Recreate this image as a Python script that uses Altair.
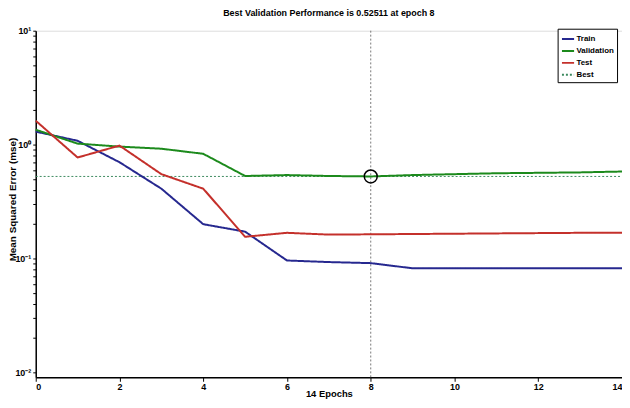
import altair as alt
import pandas as pd

# ---- data ----
epochs = list(range(15))
train = [1.30, 1.08, 0.70, 0.41, 0.20, 0.172, 0.096, 0.093, 0.091, 0.082, 0.082, 0.082, 0.082, 0.082, 0.082]
validation = [1.35, 1.02, 0.96, 0.92, 0.83, 0.53, 0.54, 0.53, 0.52511, 0.54, 0.55, 0.56, 0.565, 0.57, 0.58]
test = [1.62, 0.77, 0.98, 0.55, 0.41, 0.155, 0.168, 0.162, 0.163, 0.164, 0.165, 0.166, 0.167, 0.168, 0.168]
best_epoch = 8
best_perf = 0.52511
series_names = ["Train", "Validation", "Test", "Best"]
series_colors = ["#26288f", "#1c8a1c", "#c4302b", "#3d8a5f"]
series_dash = [[1, 0], [1, 0], [1, 0], [2, 2]]
x_ticks = [0, 2, 4, 6, 8, 10, 12, 14]
y_ticks = [m * 10.0 ** p for p in (-2, -1, 0) for m in range(1, 10)] + [10.0]

rows = []
for name, vals in [("Train", train), ("Validation", validation), ("Test", test)]:
    for e, v in zip(epochs, vals):
        rows.append({"epoch": e, "mse": v, "series": name})
lines_df = pd.DataFrame(rows)
best_df = pd.DataFrame({"epoch": [epochs[0], epochs[-1]], "mse": [best_perf, best_perf], "series": ["Best", "Best"]})
point_df = pd.DataFrame({"epoch": [best_epoch], "mse": [best_perf]})

FONT = "Liberation Sans"

x_enc = alt.X("epoch:Q",
              scale=alt.Scale(domain=[0, 14], nice=False, zero=False),
              axis=alt.Axis(values=x_ticks, title="14 Epochs", grid=False,
                            labelFontSize=9, labelFontWeight="bold", labelFont=FONT,
                            titleFontSize=9.5, titleFontWeight="bold", titleFont=FONT,
                            titleY=19, titleBaseline="alphabetic",
                            labelPadding=1, tickSize=4,
                            domainColor="black", domainWidth=1.5, tickColor="black",
                            labelColor="black", titleColor="black"))
label_expr = ("datum.value == 10 ? '10¹' : datum.value == 1 ? '10⁰' : "
              "datum.value == 0.1 ? '10⁻¹' : datum.value == 0.01 ? '10⁻²' : ''")
y_enc = alt.Y("mse:Q",
              scale=alt.Scale(type="log", domain=[0.00905, 10], nice=False),
              axis=alt.Axis(values=y_ticks, labelExpr=label_expr, title="Mean Squared Error  (mse)",
                            grid=False, labelFontSize=9, labelFontWeight="bold", labelFont=FONT,
                            titleFontSize=10, titleFontWeight="bold", titleFont=FONT,
                            titleX=-23, titleY=170, titleBaseline="middle", titleAlign="center",
                            labelPadding=2, tickSize=3,
                            domainColor="black", domainWidth=1.5, tickColor="black",
                            labelColor="black", titleColor="black"))

color_enc = alt.Color("series:N",
                      scale=alt.Scale(domain=series_names, range=series_colors),
                      legend=alt.Legend(title=None, orient="none", legendX=527, legendY=-2,
                                        strokeColor="black", fillColor="white", padding=3,
                                        symbolType="stroke", symbolSize=150, symbolStrokeWidth=2,
                                        labelFontSize=8, labelFontWeight="bold", labelFont=FONT,
                                        labelColor="black", rowPadding=0, labelOffset=1))
dash_enc = alt.StrokeDash("series:N",
                          scale=alt.Scale(domain=series_names, range=series_dash),
                          legend=None)

best_line = alt.Chart(best_df).mark_line(strokeWidth=1).encode(
    x=x_enc, y=y_enc, color=color_enc, strokeDash=dash_enc)

vrule = alt.Chart(point_df).mark_rule(color="#777777", strokeDash=[2, 2], strokeWidth=1).encode(
    x="epoch:Q")

curves = alt.Chart(lines_df).mark_line(strokeWidth=2).encode(
    x=x_enc, y=y_enc, color=color_enc, strokeDash=dash_enc,
    detail="series:N")

marker = alt.Chart(point_df).mark_point(shape="circle", filled=False, color="black",
                                        size=170, strokeWidth=1.5, opacity=1).encode(
    x="epoch:Q", y="mse:Q")

chart = alt.layer(best_line, vrule, curves, marker).properties(
    width=592, height=350,
    title=alt.TitleParams("Best Validation Performance is 0.52511 at epoch 8",
                          fontSize=9, fontWeight="bold", font=FONT, color="black",
                          anchor="middle", offset=9),
    padding={"left": 28, "top": 21, "right": 0, "bottom": 21},
    autosize="none",
).configure_view(stroke=None).configure(background="white")

chart.save("out.html", embed_options={"renderer": "svg", "actions": False})
